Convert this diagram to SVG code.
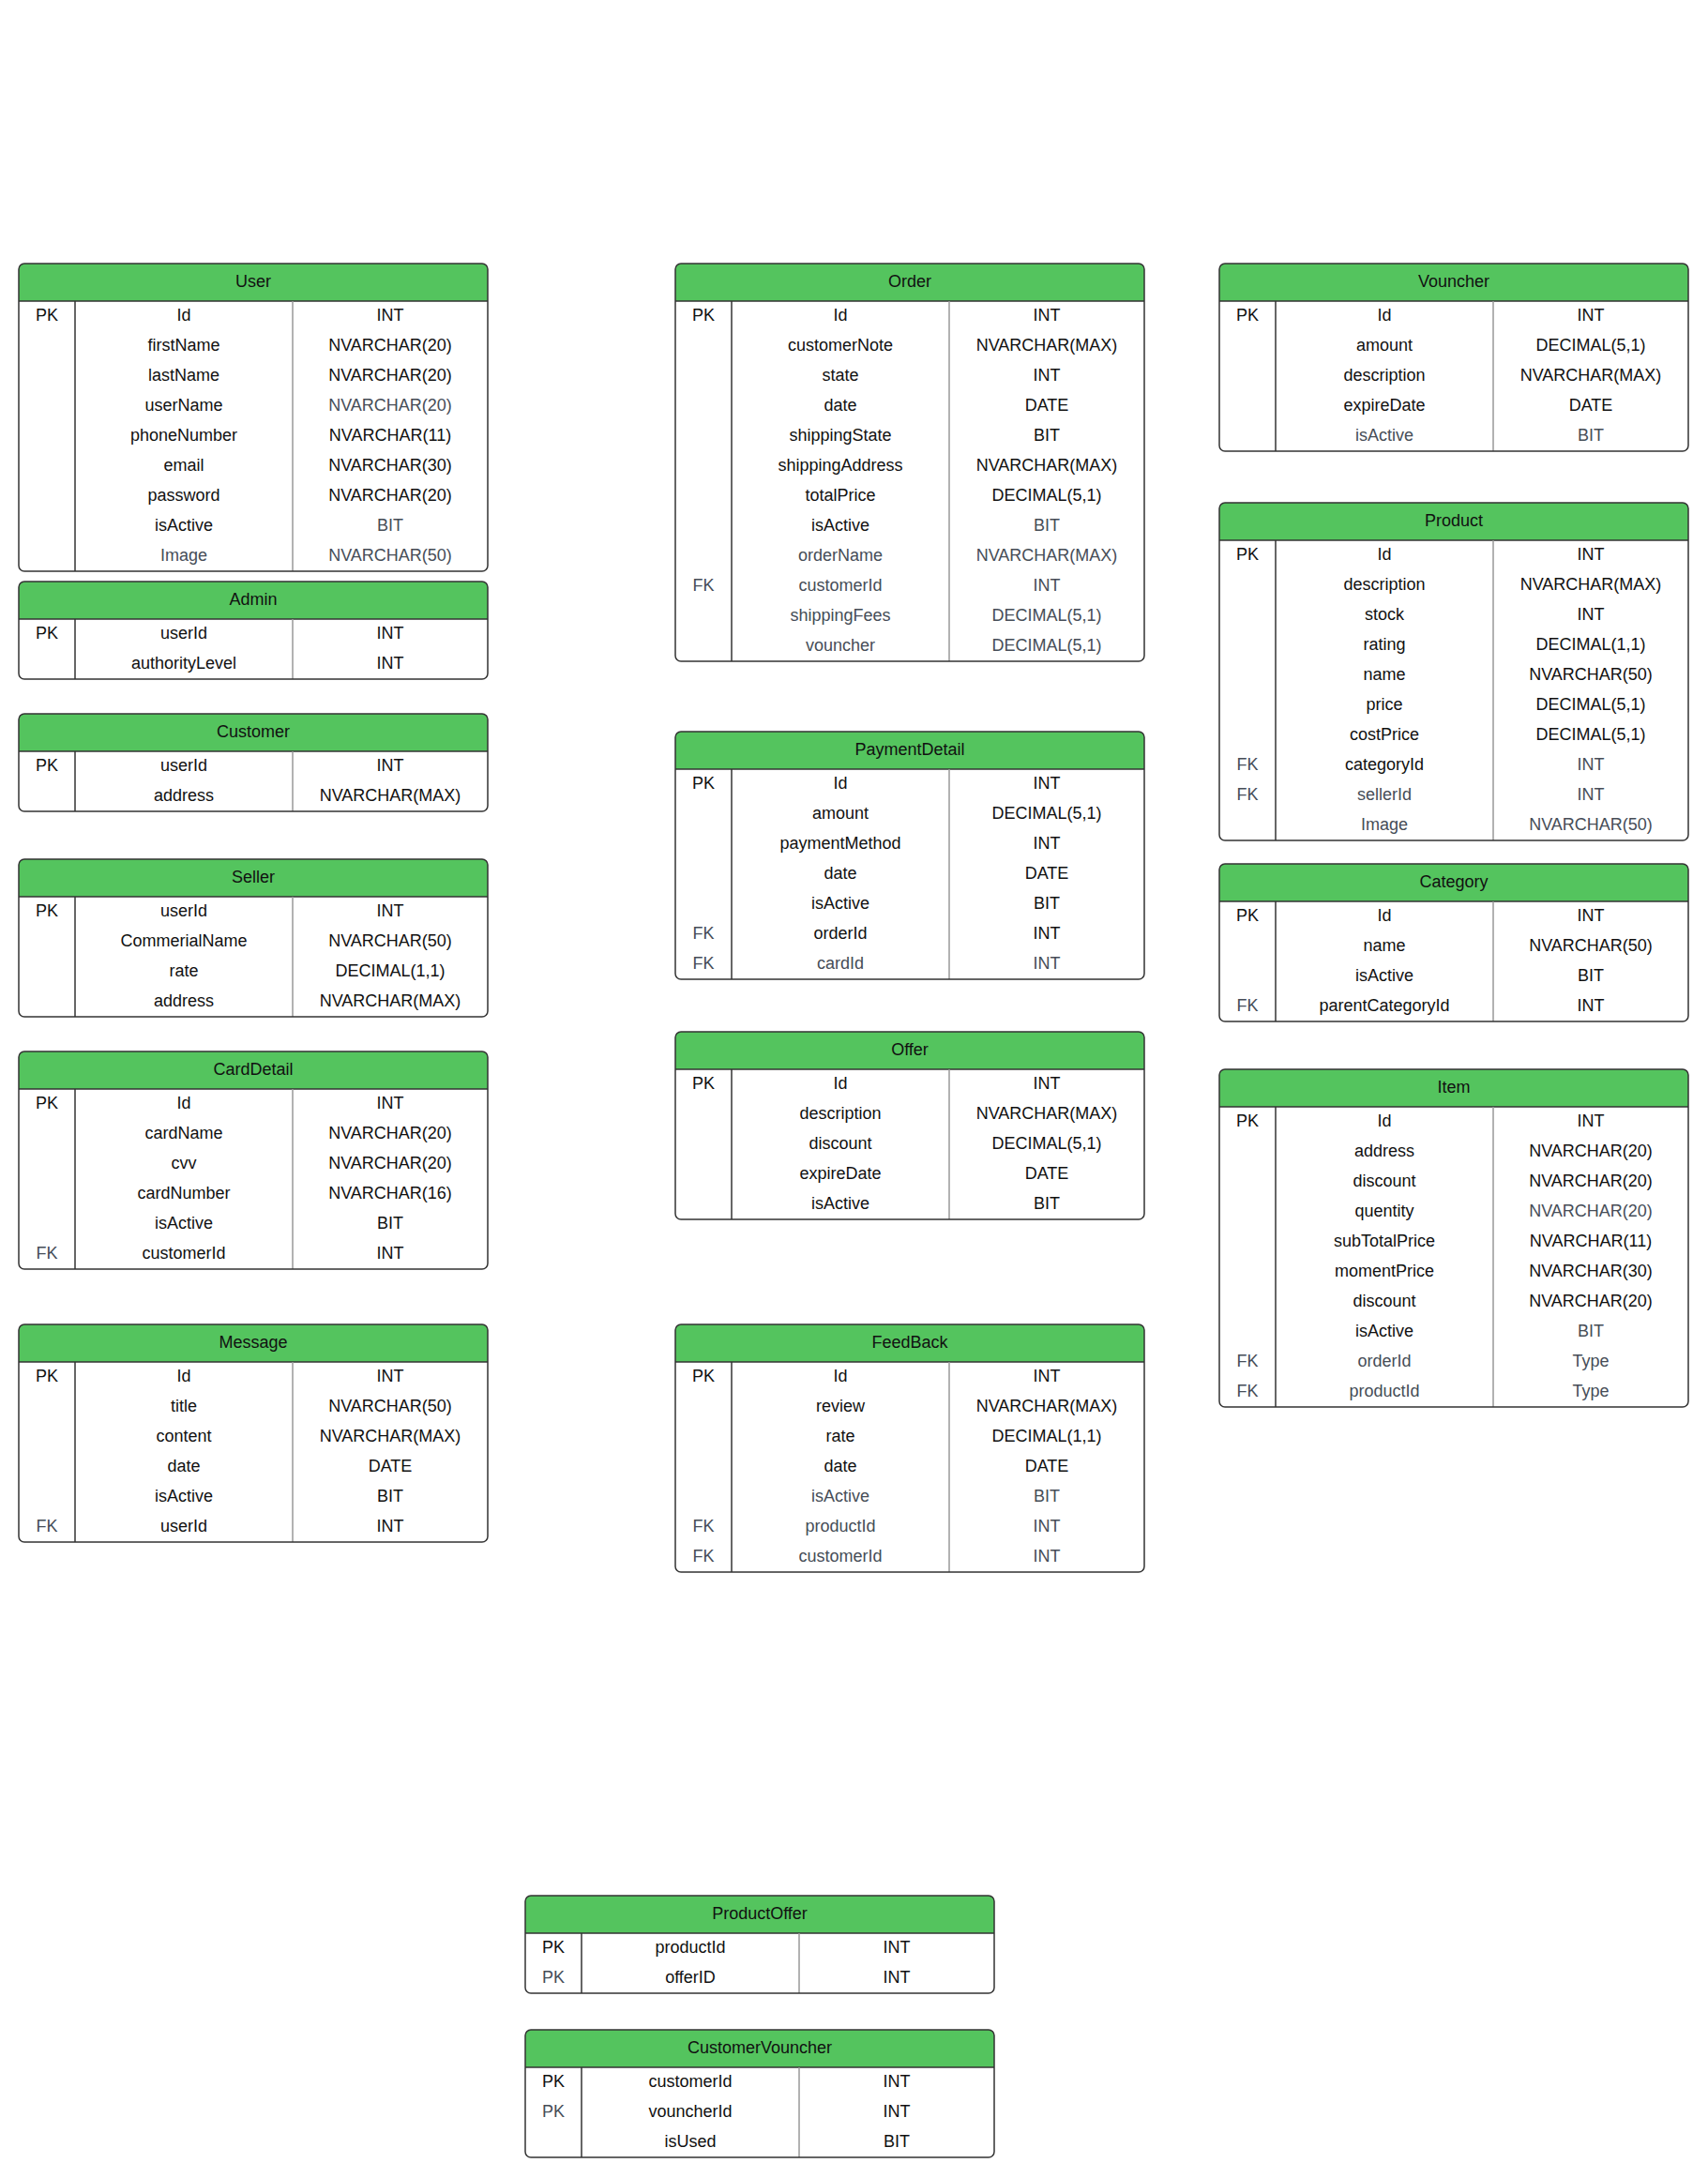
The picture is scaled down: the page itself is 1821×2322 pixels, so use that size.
<svg xmlns="http://www.w3.org/2000/svg" width="1821" height="2322" viewBox="0 0 1821 2322">
<style>
.bg{fill:#ffffff}
.hd{fill:#54c45e}
.ol{fill:none;stroke:#333333;stroke-width:1.5}
.l1{stroke:#333333;stroke-width:1.5}
.l2{stroke:#999999;stroke-width:1.5}
text{font-family:"Liberation Sans",Arial,sans-serif;font-size:18px;text-anchor:middle;fill:#111111}
text.g{fill:#464d57}
</style>
<rect width="1821" height="2322" fill="#ffffff"/>
<g id="connectors"></g>

<g id="user" transform="translate(20,281)">
<rect class="bg" width="500" height="328" rx="6"/>
<path class="hd" d="M0,40V6A6,6 0 0 1 6,0H494A6,6 0 0 1 500,6V40Z"/>
<line class="l1" x1="0" y1="40" x2="500" y2="40"/><line class="l1" x1="60" y1="40" x2="60" y2="328"/><line class="l2" x1="292" y1="40" x2="292" y2="328"/>
<rect class="ol" width="500" height="328" rx="6"/>
<text x="250" y="24.5">User</text>
<text x="30" y="60.5">PK</text><text x="176" y="60.5">Id</text><text x="396" y="60.5">INT</text>
<text x="176" y="92.5">firstName</text><text x="396" y="92.5">NVARCHAR(20)</text>
<text x="176" y="124.5">lastName</text><text x="396" y="124.5">NVARCHAR(20)</text>
<text x="176" y="156.5">userName</text><text class="g" x="396" y="156.5">NVARCHAR(20)</text>
<text x="176" y="188.5">phoneNumber</text><text x="396" y="188.5">NVARCHAR(11)</text>
<text x="176" y="220.5">email</text><text x="396" y="220.5">NVARCHAR(30)</text>
<text x="176" y="252.5">password</text><text x="396" y="252.5">NVARCHAR(20)</text>
<text x="176" y="284.5">isActive</text><text class="g" x="396" y="284.5">BIT</text>
<text class="g" x="176" y="316.5">Image</text><text class="g" x="396" y="316.5">NVARCHAR(50)</text>
</g>

<g id="admin" transform="translate(20,620)">
<rect class="bg" width="500" height="104" rx="6"/>
<path class="hd" d="M0,40V6A6,6 0 0 1 6,0H494A6,6 0 0 1 500,6V40Z"/>
<line class="l1" x1="0" y1="40" x2="500" y2="40"/><line class="l1" x1="60" y1="40" x2="60" y2="104"/><line class="l2" x1="292" y1="40" x2="292" y2="104"/>
<rect class="ol" width="500" height="104" rx="6"/>
<text x="250" y="24.5">Admin</text>
<text x="30" y="60.5">PK</text><text x="176" y="60.5">userId</text><text x="396" y="60.5">INT</text>
<text x="176" y="92.5">authorityLevel</text><text x="396" y="92.5">INT</text>
</g>

<g id="customer" transform="translate(20,761)">
<rect class="bg" width="500" height="104" rx="6"/>
<path class="hd" d="M0,40V6A6,6 0 0 1 6,0H494A6,6 0 0 1 500,6V40Z"/>
<line class="l1" x1="0" y1="40" x2="500" y2="40"/><line class="l1" x1="60" y1="40" x2="60" y2="104"/><line class="l2" x1="292" y1="40" x2="292" y2="104"/>
<rect class="ol" width="500" height="104" rx="6"/>
<text x="250" y="24.5">Customer</text>
<text x="30" y="60.5">PK</text><text x="176" y="60.5">userId</text><text x="396" y="60.5">INT</text>
<text x="176" y="92.5">address</text><text x="396" y="92.5">NVARCHAR(MAX)</text>
</g>

<g id="seller" transform="translate(20,916)">
<rect class="bg" width="500" height="168" rx="6"/>
<path class="hd" d="M0,40V6A6,6 0 0 1 6,0H494A6,6 0 0 1 500,6V40Z"/>
<line class="l1" x1="0" y1="40" x2="500" y2="40"/><line class="l1" x1="60" y1="40" x2="60" y2="168"/><line class="l2" x1="292" y1="40" x2="292" y2="168"/>
<rect class="ol" width="500" height="168" rx="6"/>
<text x="250" y="24.5">Seller</text>
<text x="30" y="60.5">PK</text><text x="176" y="60.5">userId</text><text x="396" y="60.5">INT</text>
<text x="176" y="92.5">CommerialName</text><text x="396" y="92.5">NVARCHAR(50)</text>
<text x="176" y="124.5">rate</text><text x="396" y="124.5">DECIMAL(1,1)</text>
<text x="176" y="156.5">address</text><text x="396" y="156.5">NVARCHAR(MAX)</text>
</g>

<g id="carddetail" transform="translate(20,1121)">
<rect class="bg" width="500" height="232" rx="6"/>
<path class="hd" d="M0,40V6A6,6 0 0 1 6,0H494A6,6 0 0 1 500,6V40Z"/>
<line class="l1" x1="0" y1="40" x2="500" y2="40"/><line class="l1" x1="60" y1="40" x2="60" y2="232"/><line class="l2" x1="292" y1="40" x2="292" y2="232"/>
<rect class="ol" width="500" height="232" rx="6"/>
<text x="250" y="24.5">CardDetail</text>
<text x="30" y="60.5">PK</text><text x="176" y="60.5">Id</text><text x="396" y="60.5">INT</text>
<text x="176" y="92.5">cardName</text><text x="396" y="92.5">NVARCHAR(20)</text>
<text x="176" y="124.5">cvv</text><text x="396" y="124.5">NVARCHAR(20)</text>
<text x="176" y="156.5">cardNumber</text><text x="396" y="156.5">NVARCHAR(16)</text>
<text x="176" y="188.5">isActive</text><text x="396" y="188.5">BIT</text>
<text class="g" x="30" y="220.5">FK</text><text x="176" y="220.5">customerId</text><text x="396" y="220.5">INT</text>
</g>

<g id="message" transform="translate(20,1412)">
<rect class="bg" width="500" height="232" rx="6"/>
<path class="hd" d="M0,40V6A6,6 0 0 1 6,0H494A6,6 0 0 1 500,6V40Z"/>
<line class="l1" x1="0" y1="40" x2="500" y2="40"/><line class="l1" x1="60" y1="40" x2="60" y2="232"/><line class="l2" x1="292" y1="40" x2="292" y2="232"/>
<rect class="ol" width="500" height="232" rx="6"/>
<text x="250" y="24.5">Message</text>
<text x="30" y="60.5">PK</text><text x="176" y="60.5">Id</text><text x="396" y="60.5">INT</text>
<text x="176" y="92.5">title</text><text x="396" y="92.5">NVARCHAR(50)</text>
<text x="176" y="124.5">content</text><text x="396" y="124.5">NVARCHAR(MAX)</text>
<text x="176" y="156.5">date</text><text x="396" y="156.5">DATE</text>
<text x="176" y="188.5">isActive</text><text x="396" y="188.5">BIT</text>
<text class="g" x="30" y="220.5">FK</text><text x="176" y="220.5">userId</text><text x="396" y="220.5">INT</text>
</g>

<g id="order" transform="translate(720,281)">
<rect class="bg" width="500" height="424" rx="6"/>
<path class="hd" d="M0,40V6A6,6 0 0 1 6,0H494A6,6 0 0 1 500,6V40Z"/>
<line class="l1" x1="0" y1="40" x2="500" y2="40"/><line class="l1" x1="60" y1="40" x2="60" y2="424"/><line class="l2" x1="292" y1="40" x2="292" y2="424"/>
<rect class="ol" width="500" height="424" rx="6"/>
<text x="250" y="24.5">Order</text>
<text x="30" y="60.5">PK</text><text x="176" y="60.5">Id</text><text x="396" y="60.5">INT</text>
<text x="176" y="92.5">customerNote</text><text x="396" y="92.5">NVARCHAR(MAX)</text>
<text x="176" y="124.5">state</text><text x="396" y="124.5">INT</text>
<text x="176" y="156.5">date</text><text x="396" y="156.5">DATE</text>
<text x="176" y="188.5">shippingState</text><text x="396" y="188.5">BIT</text>
<text x="176" y="220.5">shippingAddress</text><text x="396" y="220.5">NVARCHAR(MAX)</text>
<text x="176" y="252.5">totalPrice</text><text x="396" y="252.5">DECIMAL(5,1)</text>
<text x="176" y="284.5">isActive</text><text class="g" x="396" y="284.5">BIT</text>
<text class="g" x="176" y="316.5">orderName</text><text class="g" x="396" y="316.5">NVARCHAR(MAX)</text>
<text class="g" x="30" y="348.5">FK</text><text class="g" x="176" y="348.5">customerId</text><text class="g" x="396" y="348.5">INT</text>
<text class="g" x="176" y="380.5">shippingFees</text><text class="g" x="396" y="380.5">DECIMAL(5,1)</text>
<text class="g" x="176" y="412.5">vouncher</text><text class="g" x="396" y="412.5">DECIMAL(5,1)</text>
</g>

<g id="paymentdetail" transform="translate(720,780)">
<rect class="bg" width="500" height="264" rx="6"/>
<path class="hd" d="M0,40V6A6,6 0 0 1 6,0H494A6,6 0 0 1 500,6V40Z"/>
<line class="l1" x1="0" y1="40" x2="500" y2="40"/><line class="l1" x1="60" y1="40" x2="60" y2="264"/><line class="l2" x1="292" y1="40" x2="292" y2="264"/>
<rect class="ol" width="500" height="264" rx="6"/>
<text x="250" y="24.5">PaymentDetail</text>
<text x="30" y="60.5">PK</text><text x="176" y="60.5">Id</text><text x="396" y="60.5">INT</text>
<text x="176" y="92.5">amount</text><text x="396" y="92.5">DECIMAL(5,1)</text>
<text x="176" y="124.5">paymentMethod</text><text x="396" y="124.5">INT</text>
<text x="176" y="156.5">date</text><text x="396" y="156.5">DATE</text>
<text x="176" y="188.5">isActive</text><text x="396" y="188.5">BIT</text>
<text class="g" x="30" y="220.5">FK</text><text x="176" y="220.5">orderId</text><text x="396" y="220.5">INT</text>
<text class="g" x="30" y="252.5">FK</text><text class="g" x="176" y="252.5">cardId</text><text class="g" x="396" y="252.5">INT</text>
</g>

<g id="offer" transform="translate(720,1100)">
<rect class="bg" width="500" height="200" rx="6"/>
<path class="hd" d="M0,40V6A6,6 0 0 1 6,0H494A6,6 0 0 1 500,6V40Z"/>
<line class="l1" x1="0" y1="40" x2="500" y2="40"/><line class="l1" x1="60" y1="40" x2="60" y2="200"/><line class="l2" x1="292" y1="40" x2="292" y2="200"/>
<rect class="ol" width="500" height="200" rx="6"/>
<text x="250" y="24.5">Offer</text>
<text x="30" y="60.5">PK</text><text x="176" y="60.5">Id</text><text x="396" y="60.5">INT</text>
<text x="176" y="92.5">description</text><text x="396" y="92.5">NVARCHAR(MAX)</text>
<text x="176" y="124.5">discount</text><text x="396" y="124.5">DECIMAL(5,1)</text>
<text x="176" y="156.5">expireDate</text><text x="396" y="156.5">DATE</text>
<text x="176" y="188.5">isActive</text><text x="396" y="188.5">BIT</text>
</g>

<g id="feedback" transform="translate(720,1412)">
<rect class="bg" width="500" height="264" rx="6"/>
<path class="hd" d="M0,40V6A6,6 0 0 1 6,0H494A6,6 0 0 1 500,6V40Z"/>
<line class="l1" x1="0" y1="40" x2="500" y2="40"/><line class="l1" x1="60" y1="40" x2="60" y2="264"/><line class="l2" x1="292" y1="40" x2="292" y2="264"/>
<rect class="ol" width="500" height="264" rx="6"/>
<text x="250" y="24.5">FeedBack</text>
<text x="30" y="60.5">PK</text><text x="176" y="60.5">Id</text><text x="396" y="60.5">INT</text>
<text x="176" y="92.5">review</text><text x="396" y="92.5">NVARCHAR(MAX)</text>
<text x="176" y="124.5">rate</text><text x="396" y="124.5">DECIMAL(1,1)</text>
<text x="176" y="156.5">date</text><text x="396" y="156.5">DATE</text>
<text class="g" x="176" y="188.5">isActive</text><text class="g" x="396" y="188.5">BIT</text>
<text class="g" x="30" y="220.5">FK</text><text class="g" x="176" y="220.5">productId</text><text class="g" x="396" y="220.5">INT</text>
<text class="g" x="30" y="252.5">FK</text><text class="g" x="176" y="252.5">customerId</text><text class="g" x="396" y="252.5">INT</text>
</g>

<g id="vouncher" transform="translate(1300,281)">
<rect class="bg" width="500" height="200" rx="6"/>
<path class="hd" d="M0,40V6A6,6 0 0 1 6,0H494A6,6 0 0 1 500,6V40Z"/>
<line class="l1" x1="0" y1="40" x2="500" y2="40"/><line class="l1" x1="60" y1="40" x2="60" y2="200"/><line class="l2" x1="292" y1="40" x2="292" y2="200"/>
<rect class="ol" width="500" height="200" rx="6"/>
<text x="250" y="24.5">Vouncher</text>
<text x="30" y="60.5">PK</text><text x="176" y="60.5">Id</text><text x="396" y="60.5">INT</text>
<text x="176" y="92.5">amount</text><text x="396" y="92.5">DECIMAL(5,1)</text>
<text x="176" y="124.5">description</text><text x="396" y="124.5">NVARCHAR(MAX)</text>
<text x="176" y="156.5">expireDate</text><text x="396" y="156.5">DATE</text>
<text class="g" x="176" y="188.5">isActive</text><text class="g" x="396" y="188.5">BIT</text>
</g>

<g id="product" transform="translate(1300,536)">
<rect class="bg" width="500" height="360" rx="6"/>
<path class="hd" d="M0,40V6A6,6 0 0 1 6,0H494A6,6 0 0 1 500,6V40Z"/>
<line class="l1" x1="0" y1="40" x2="500" y2="40"/><line class="l1" x1="60" y1="40" x2="60" y2="360"/><line class="l2" x1="292" y1="40" x2="292" y2="360"/>
<rect class="ol" width="500" height="360" rx="6"/>
<text x="250" y="24.5">Product</text>
<text x="30" y="60.5">PK</text><text x="176" y="60.5">Id</text><text x="396" y="60.5">INT</text>
<text x="176" y="92.5">description</text><text x="396" y="92.5">NVARCHAR(MAX)</text>
<text x="176" y="124.5">stock</text><text x="396" y="124.5">INT</text>
<text x="176" y="156.5">rating</text><text x="396" y="156.5">DECIMAL(1,1)</text>
<text x="176" y="188.5">name</text><text x="396" y="188.5">NVARCHAR(50)</text>
<text x="176" y="220.5">price</text><text x="396" y="220.5">DECIMAL(5,1)</text>
<text x="176" y="252.5">costPrice</text><text x="396" y="252.5">DECIMAL(5,1)</text>
<text class="g" x="30" y="284.5">FK</text><text x="176" y="284.5">categoryId</text><text class="g" x="396" y="284.5">INT</text>
<text class="g" x="30" y="316.5">FK</text><text class="g" x="176" y="316.5">sellerId</text><text class="g" x="396" y="316.5">INT</text>
<text class="g" x="176" y="348.5">Image</text><text class="g" x="396" y="348.5">NVARCHAR(50)</text>
</g>

<g id="category" transform="translate(1300,921)">
<rect class="bg" width="500" height="168" rx="6"/>
<path class="hd" d="M0,40V6A6,6 0 0 1 6,0H494A6,6 0 0 1 500,6V40Z"/>
<line class="l1" x1="0" y1="40" x2="500" y2="40"/><line class="l1" x1="60" y1="40" x2="60" y2="168"/><line class="l2" x1="292" y1="40" x2="292" y2="168"/>
<rect class="ol" width="500" height="168" rx="6"/>
<text x="250" y="24.5">Category</text>
<text x="30" y="60.5">PK</text><text x="176" y="60.5">Id</text><text x="396" y="60.5">INT</text>
<text x="176" y="92.5">name</text><text x="396" y="92.5">NVARCHAR(50)</text>
<text x="176" y="124.5">isActive</text><text x="396" y="124.5">BIT</text>
<text class="g" x="30" y="156.5">FK</text><text x="176" y="156.5">parentCategoryId</text><text x="396" y="156.5">INT</text>
</g>

<g id="item" transform="translate(1300,1140)">
<rect class="bg" width="500" height="360" rx="6"/>
<path class="hd" d="M0,40V6A6,6 0 0 1 6,0H494A6,6 0 0 1 500,6V40Z"/>
<line class="l1" x1="0" y1="40" x2="500" y2="40"/><line class="l1" x1="60" y1="40" x2="60" y2="360"/><line class="l2" x1="292" y1="40" x2="292" y2="360"/>
<rect class="ol" width="500" height="360" rx="6"/>
<text x="250" y="24.5">Item</text>
<text x="30" y="60.5">PK</text><text x="176" y="60.5">Id</text><text x="396" y="60.5">INT</text>
<text x="176" y="92.5">address</text><text x="396" y="92.5">NVARCHAR(20)</text>
<text x="176" y="124.5">discount</text><text x="396" y="124.5">NVARCHAR(20)</text>
<text x="176" y="156.5">quentity</text><text class="g" x="396" y="156.5">NVARCHAR(20)</text>
<text x="176" y="188.5">subTotalPrice</text><text x="396" y="188.5">NVARCHAR(11)</text>
<text x="176" y="220.5">momentPrice</text><text x="396" y="220.5">NVARCHAR(30)</text>
<text x="176" y="252.5">discount</text><text x="396" y="252.5">NVARCHAR(20)</text>
<text x="176" y="284.5">isActive</text><text class="g" x="396" y="284.5">BIT</text>
<text class="g" x="30" y="316.5">FK</text><text class="g" x="176" y="316.5">orderId</text><text class="g" x="396" y="316.5">Type</text>
<text class="g" x="30" y="348.5">FK</text><text class="g" x="176" y="348.5">productId</text><text class="g" x="396" y="348.5">Type</text>
</g>

<g id="productoffer" transform="translate(560,2021)">
<rect class="bg" width="500" height="104" rx="6"/>
<path class="hd" d="M0,40V6A6,6 0 0 1 6,0H494A6,6 0 0 1 500,6V40Z"/>
<line class="l1" x1="0" y1="40" x2="500" y2="40"/><line class="l1" x1="60" y1="40" x2="60" y2="104"/><line class="l2" x1="292" y1="40" x2="292" y2="104"/>
<rect class="ol" width="500" height="104" rx="6"/>
<text x="250" y="24.5">ProductOffer</text>
<text x="30" y="60.5">PK</text><text x="176" y="60.5">productId</text><text x="396" y="60.5">INT</text>
<text class="g" x="30" y="92.5">PK</text><text x="176" y="92.5">offerID</text><text x="396" y="92.5">INT</text>
</g>

<g id="customervouncher" transform="translate(560,2164)">
<rect class="bg" width="500" height="136" rx="6"/>
<path class="hd" d="M0,40V6A6,6 0 0 1 6,0H494A6,6 0 0 1 500,6V40Z"/>
<line class="l1" x1="0" y1="40" x2="500" y2="40"/><line class="l1" x1="60" y1="40" x2="60" y2="136"/><line class="l2" x1="292" y1="40" x2="292" y2="136"/>
<rect class="ol" width="500" height="136" rx="6"/>
<text x="250" y="24.5">CustomerVouncher</text>
<text x="30" y="60.5">PK</text><text x="176" y="60.5">customerId</text><text x="396" y="60.5">INT</text>
<text class="g" x="30" y="92.5">PK</text><text x="176" y="92.5">vouncherId</text><text x="396" y="92.5">INT</text>
<text x="176" y="124.5">isUsed</text><text x="396" y="124.5">BIT</text>
</g>
</svg>
